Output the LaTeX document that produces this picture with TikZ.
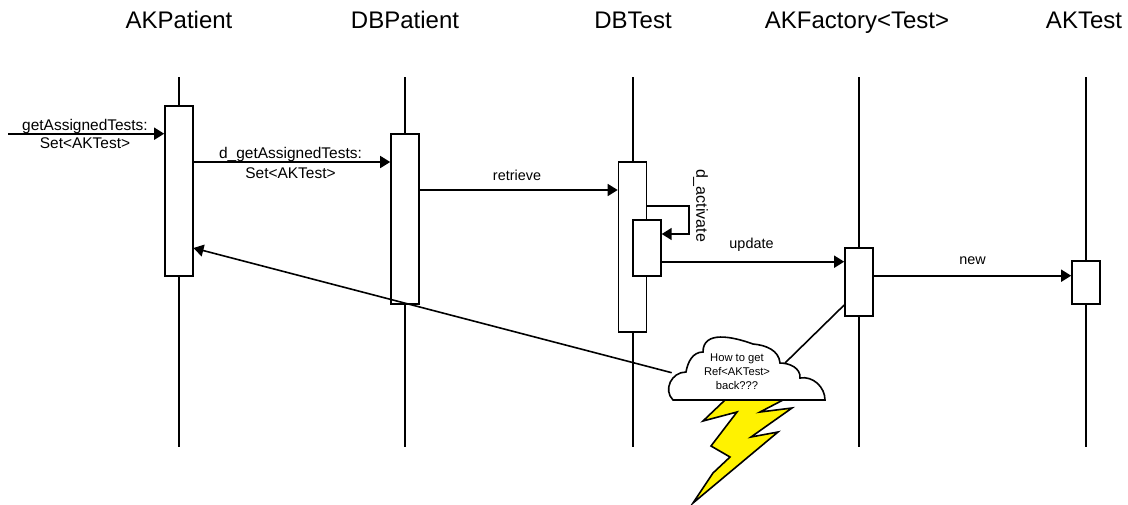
\documentclass[tikz,border=0pt]{standalone}
\usepackage{fontspec}
\setmainfont{Liberation Sans}
\usetikzlibrary{arrows.meta}
\tikzstyle{head}=[inner sep=0pt,anchor=base,font=\fontsize{18pt}{20pt}\selectfont]
\tikzstyle{act}=[draw,fill=white,minimum width=21pt,inner sep=0pt]
\tikzstyle{msg}=[inner sep=0pt,align=center,font=\fontsize{10.8pt}{14pt}\selectfont]
\tikzstyle{call}=[-{Triangle[length=7.5pt,width=9pt]}]
\begin{document}
\begin{tikzpicture}[x=.75pt,y=-.75pt,line width=1.2pt]
\useasboundingbox (0,0) rectangle (1128,504);
\foreach \n/\x/\hx/\t in {pat/179/179/AKPatient, dbp/405/405/DBPatient, dbt/633/633/DBTest, fac/859/857/{AKFactory<Test>}, tst/1086/1084/AKTest} {
    \node[head] (h\n) at (\hx,28.5) {\t};
    \coordinate (\n top) at (\x,77);
    \coordinate (\n bot) at (\x,447);
    \draw (\n top) -- (\n bot);}
% activation boxes
\node[act,minimum height=127.5pt] (apat) at (179,190.7) {};
\node[act,minimum height=127.5pt] (adbp) at (405,218.7) {};
\node[act,minimum height=127.5pt] (adbt) at (632.5,246.7) {};
\node[act,minimum height=42pt] (aself) at (646.9,248) {};
\node[act,minimum height=51pt] (afac) at (859,282) {};
\node[act,minimum height=32.25pt] (atst) at (1086,282.5) {};
% message levels
\coordinate (start) at (8,133.7);
\coordinate (l2) at (0,162);
\coordinate (l3) at (0,190);
\coordinate (l4) at (0,261.7);
\coordinate (l5) at (0,275.7);
\coordinate (s1) at (689,206);
\coordinate (s2) at (689,234);
\coordinate (back) at (193.5,248);
% lightning and cloud
\draw[fill=yellow] (725,400) -- (703,421) -- (737,412) -- (711,446) -- (730,457) -- (713,473) -- (693,503) -- (778,432) -- (751,437) -- (792,408) -- (760,412) -- (783,400) -- cycle;
\draw[fill=white] (673,400) -- (825,400) to[out=90,in=10] (800,378) to[out=85,in=0] (780,363) to[out=95,in=-5] (753,344) to[out=160,in=90,looseness=1.1] (703,352) to[out=180,in=80] (686,372) to[out=180,in=135,looseness=1.2] cycle;
\coordinate (cloudL) at (671.7,372.7);
\coordinate (cloudR) at (785,363);
\node[msg,font=\fontsize{8.4pt}{10.5pt}\selectfont] (note) at (737,372) {How to get\\Ref<AKTest>\\back???};
% messages
\draw[call] (start) -- (apat.west |- start);
\node[msg,font=\fontsize{11.6pt}{13.3pt}\selectfont] (m1) at (85,134) {getAssignedTests:\\Set<AKTest>};
\draw[call] (apat.east |- l2) -- (adbp.west |- l2);
\node[msg,font=\fontsize{11.6pt}{15pt}\selectfont] (m2) at (290.5,163) {d\_getAssignedTests:\\Set<AKTest>};
\draw[call] (adbp.east |- l3) -- (adbt.west |- l3);
\node[msg] (m3) at (517,175) {retrieve};
\draw[call] (adbt.east |- s1) -- (s1) -- (s2) -- (aself.east |- s2);
\node[msg,font=\fontsize{12pt}{14pt}\selectfont,rotate=-90] (m4) at (700.5,205.5) {d\_activate};
\draw[call] (aself.east |- l4) -- (afac.west |- l4);
\node[msg] (m5) at (751.5,245) {update};
\draw[call] (afac.east |- l5) -- (atst.west |- l5);
\node[msg] (m6) at (972.5,261) {new};
\draw[call] (cloudL) -- (back);
\draw (cloudR) -- (afac.west |- 0,305);
\end{tikzpicture}
\end{document}
